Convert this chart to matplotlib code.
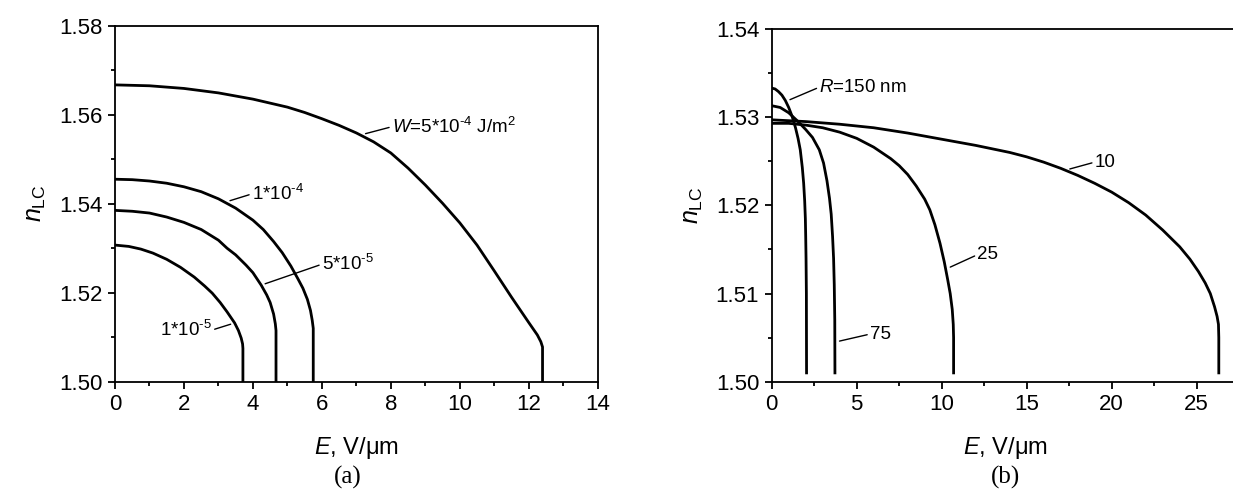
import numpy as np
import matplotlib
matplotlib.use("Agg")
import matplotlib.pyplot as plt

plt.rcParams['font.family'] = ['Liberation Sans', 'DejaVu Sans']
plt.rcParams['mathtext.fontset'] = 'custom'
plt.rcParams['mathtext.rm'] = 'Liberation Sans'
plt.rcParams['mathtext.it'] = 'Liberation Sans:italic'
plt.rcParams['mathtext.bf'] = 'Liberation Sans:bold'

# (a) n_LC vs E for different anchoring energies W
E_w5e4 = [0, 1, 2, 3, 4, 5, 5.5, 6, 6.5, 7, 7.5, 8, 8.5, 9, 9.5, 10, 10.5, 11, 11.5,
          12, 12.25, 12.35, 12.4, 12.4]
n_w5e4 = [1.5667, 1.5665, 1.5659, 1.5649, 1.5635, 1.5617, 1.5605, 1.5591, 1.5576,
          1.5559, 1.5539, 1.5514, 1.5480, 1.5442, 1.5401, 1.5357, 1.5307, 1.5249,
          1.5190, 1.5133, 1.5105, 1.5090, 1.5078, 1.500]
E_w1e4 = [0, 0.5, 1.0, 1.5, 2.0, 2.5, 3.0, 3.5, 4.0, 4.3, 4.6, 4.85, 5.1, 5.3, 5.45,
          5.58, 5.67, 5.72, 5.75, 5.75]
n_w1e4 = [1.5455, 1.5454, 1.5451, 1.5446, 1.5438, 1.5427, 1.5411, 1.5390, 1.5363,
          1.5342, 1.5315, 1.5290, 1.5260, 1.5232, 1.5210, 1.5185, 1.5160, 1.5138,
          1.5120, 1.500]
E_w5e5 = [0, 0.5, 1.0, 1.5, 2.0, 2.5, 3.0, 3.25, 3.5, 3.8, 4.0, 4.24, 4.4, 4.5, 4.6,
          4.65, 4.67, 4.67]
n_w5e5 = [1.5385, 1.5383, 1.5379, 1.5370, 1.5358, 1.5342, 1.5318, 1.5300, 1.5285,
          1.5262, 1.5245, 1.5217, 1.5195, 1.5178, 1.5152, 1.5130, 1.5115, 1.500]
E_w1e5 = [0, 0.4, 0.75, 1.1, 1.5, 1.9, 2.3, 2.6, 2.82, 3.05, 3.25, 3.47, 3.58, 3.66,
          3.7, 3.71, 3.71]
n_w1e5 = [1.5307, 1.5304, 1.5298, 1.5289, 1.5275, 1.5257, 1.5235, 1.5215, 1.5199,
          1.5178, 1.5157, 1.5132, 1.5115, 1.5098, 1.5085, 1.5075, 1.500]

# (b) n_LC vs E for different droplet radii R
E_r10 = [0, 2, 4, 6, 8, 10, 12, 14, 15, 16, 17, 18, 19, 20, 21, 22, 23, 24, 24.6,
         25.1, 25.5, 25.8, 26.05, 26.2, 26.28, 26.3, 26.3]
n_r10 = [1.5297, 1.5295, 1.5292, 1.5288, 1.5282, 1.5275, 1.5268, 1.5260, 1.5255,
         1.5249, 1.5242, 1.5234, 1.5225, 1.5215, 1.5203, 1.5189, 1.5172, 1.5153,
         1.5139, 1.5125, 1.5112, 1.5100, 1.5085, 1.5074, 1.5065, 1.505, 1.501]
E_r25 = [0, 1, 2, 3, 4, 5, 6, 7, 7.5, 8, 8.5, 9, 9.3, 9.6, 9.9, 10.15, 10.35, 10.5,
         10.62, 10.68, 10.7, 10.7]
n_r25 = [1.5293, 1.5293, 1.5291, 1.5288, 1.5283, 1.5276, 1.5266, 1.5253, 1.5245,
         1.5235, 1.5222, 1.5207, 1.5195, 1.5178, 1.5157, 1.5136, 1.5116, 1.5100,
         1.5082, 1.5065, 1.505, 1.501]
E_r75 = [0, 0.5, 1.0, 1.5, 2.0, 2.4, 2.8, 3.05, 3.25, 3.4, 3.5, 3.58, 3.64, 3.68,
         3.71, 3.72]
n_r75 = [1.5313, 1.5311, 1.5305, 1.5296, 1.5286, 1.5277, 1.5263, 1.5248, 1.5228,
         1.5208, 1.5190, 1.5165, 1.5140, 1.5110, 1.507, 1.501]
E_r150 = [0, 0.2, 0.4, 0.6, 0.8, 1.0, 1.2, 1.4, 1.55, 1.68, 1.8, 1.88, 1.94, 1.98,
          2.0, 2.02, 2.04, 2.05]
n_r150 = [1.5333, 1.5332, 1.5329, 1.5325, 1.5319, 1.5311, 1.5301, 1.5288, 1.5276,
          1.5263, 1.5243, 1.5225, 1.5205, 1.5185, 1.5165, 1.5140, 1.510, 1.501]

W, H = 1233, 495
fig = plt.figure(figsize=(W / 100, H / 100), dpi=100)
ax1 = fig.add_axes([115 / W, 1 - 381.7 / H, 482.7 / W, 356 / H])
ax2 = fig.add_axes([771.7 / W, 1 - 381.7 / H, 476 / W, 352.7 / H])

lw = 2.0
for E, n in [(E_w5e4, n_w5e4), (E_w1e4, n_w1e4), (E_w5e5, n_w5e5), (E_w1e5, n_w1e5)]:
    ax1.plot(E, n, color='black', lw=lw, solid_joinstyle='round')
for E, n in [(E_r10, n_r10), (E_r25, n_r25), (E_r75, n_r75), (E_r150, n_r150)]:
    ax2.plot(E, n, color='black', lw=lw, solid_joinstyle='round')

ax1.set_xlim(0, 14)
ax1.set_ylim(1.50, 1.58)
ax1.set_xticks(np.arange(0, 15, 2))
ax1.set_xticks(np.arange(1, 14, 2), minor=True)
ax1.set_yticks([1.50, 1.52, 1.54, 1.56, 1.58])
ax1.set_yticks([1.51, 1.53, 1.55, 1.57], minor=True)
ax1.set_yticklabels(['1.50', '1.52', '1.54', '1.56', '1.58'])

ax2.set_xlim(0, 28)
ax2.set_ylim(1.50, 1.54)
ax2.set_xticks(np.arange(0, 26, 5))
ax2.set_xticks(np.arange(2.5, 28, 5), minor=True)
ax2.set_yticks([1.50, 1.51, 1.52, 1.53, 1.54])
ax2.set_yticks([1.505, 1.515, 1.525, 1.535], minor=True)
ax2.set_yticklabels(['1.50', '1.51', '1.52', '1.53', '1.54'])
ax2.spines['right'].set_visible(False)

for ax in (ax1, ax2):
    for s in ax.spines.values():
        s.set_linewidth(1.3)
    ax.tick_params(which='both', direction='out', width=1.3, labelsize=16, pad=4)
    ax.tick_params(which='major', length=5)
    ax.tick_params(which='minor', length=3)
    ax.set_xlabel('$E$, V/\u03bcm', fontsize=17)
    ax.set_ylabel('$n_{\\mathrm{LC}}$', fontsize=18, labelpad=8)

ax1.xaxis.set_label_coords(0.5, -0.15)
ax2.xaxis.set_label_coords((1005 - 771.7) / 476, -0.15)

ann = dict(fontsize=13.5, va='center')
line = dict(arrowstyle='-', lw=1.0, color='black', shrinkA=0, shrinkB=3)

ax1.annotate('$W$=5*10$^{\\text{-}4}$ J/m$^{2}$', xy=(7.15, 1.5555), xytext=(8.03, 1.5573),
             ha='left', arrowprops=dict(line, relpos=(0, 0.5)), **ann)
ax1.annotate('1*10$^{\\text{-}4}$', xy=(3.22, 1.5404), xytext=(3.97, 1.5422),
             ha='left', arrowprops=dict(line, relpos=(0, 0.5)), **ann)
ax1.annotate('5*10$^{\\text{-}5}$', xy=(4.24, 1.5217), xytext=(6.0, 1.5264),
             ha='left', arrowprops=dict(line, relpos=(0, 0.5)), **ann)
ax1.annotate('1*10$^{\\text{-}5}$', xy=(3.47, 1.5132), xytext=(2.81, 1.5116),
             ha='right', arrowprops=dict(line, relpos=(1, 0.5)), **ann)

ax2.annotate('$R$=150 nm', xy=(0.85, 1.5318), xytext=(2.8, 1.5334),
             ha='left', arrowprops=dict(line, relpos=(0, 0.5)), **ann)
ax2.annotate('10', xy=(17.3, 1.5240), xytext=(19.0, 1.5249),
             ha='left', arrowprops=dict(line, relpos=(0, 0.5)), **ann)
ax2.annotate('25', xy=(10.28, 1.5128), xytext=(12.1, 1.5144),
             ha='left', arrowprops=dict(line, relpos=(0, 0.5)), **ann)
ax2.annotate('75', xy=(3.75, 1.5045), xytext=(5.78, 1.5054),
             ha='left', arrowprops=dict(line, relpos=(0, 0.5)), **ann)

fig.text(348 / W, 1 - 477 / H, '(a)', ha='center', va='center', fontsize=18,
         family=['Liberation Serif', 'DejaVu Serif'])
fig.text(1005 / W, 1 - 477 / H, '(b)', ha='center', va='center', fontsize=18,
         family=['Liberation Serif', 'DejaVu Serif'])

fig.savefig('out.png', dpi=100)
